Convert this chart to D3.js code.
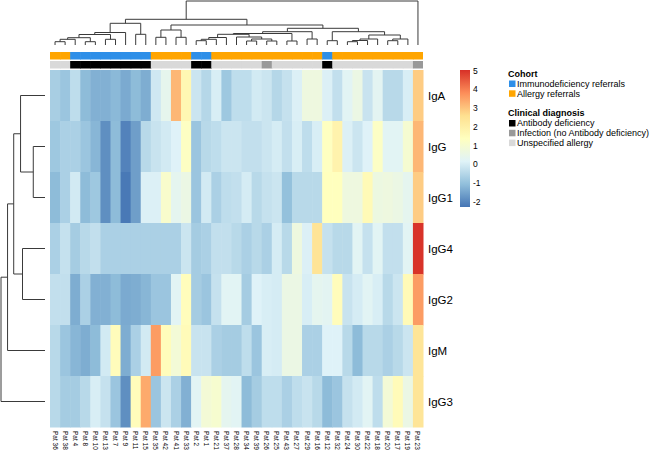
<!DOCTYPE html>
<html>
<head>
<meta charset="utf-8">
<script src="https://cdn.jsdelivr.net/npm/d3@7"></script>
<style>
body { margin: 0; background: #fff; }
text { font-family: "Liberation Sans", Arial, Helvetica, sans-serif; }
</style>
</head>
<body>
<div id="chart"></div>
<script>
// --- DATA ---
const patients = ["Pat 36","Pat 38","Pat 4","Pat 8","Pat 10","Pat 13","Pat 7","Pat 9","Pat 11","Pat 15",
  "Pat 35","Pat 42","Pat 41","Pat 33","Pat 2","Pat 1","Pat 21","Pat 37","Pat 28","Pat 34",
  "Pat 39","Pat 26","Pat 25","Pat 43","Pat 27","Pat 29","Pat 16","Pat 12","Pat 32","Pat 24",
  "Pat 30","Pat 22","Pat 18","Pat 20","Pat 17","Pat 19","Pat 23"];
const isotypes = ["IgA","IgG","IgG1","IgG4","IgG2","IgM","IgG3"];

const cohort = ["A","A","I","I","I","I","I","I","I","I","A","A","A","A","I","I","A","A","A","A",
  "A","A","A","A","A","A","A","I","A","A","A","A","A","A","A","A","A"];
const diagnosis = ["U","U","B","B","B","B","B","B","B","B","U","U","U","U","B","B","U","U","U","U",
  "U","X","U","U","U","U","U","B","U","U","U","U","U","U","U","U","X"];

const valIgA  = [-0.7,-0.9,-0.35,-1.1,-1.3,-1.3,-1.15,-1.4,-1.1,-1.35, -0.1,0.4,3.2,1.7,-0.15,-0.5,0.05,-0.85,-0.35,-0.35,
  -0.05,-0.15,-0.5,-0.25,0.1,0.7,0.7,0.1,-0.3,0.25, 0.6,-0.2,0.3,-0.45,-0.45,0.05,2.9];
const valIgG  = [-0.85,-0.65,-0.65,-0.9,-1.2,-1.85,-1.1,-2.05,-1.6,-0.45, -0.2,-0.05,0.15,1.3,-0.9,-0.45,-0.35,-0.15,-0.15,-0.3,
  -0.3,-0.15,0,-0.3,0.05,-0.35,0.05,1.35,1.85,0.1, -0.15,0.15,1.25,0.25,0.25,1.0,3.2];
const valIgG1 = [-1.1,-0.65,-0.05,-1.1,-0.85,-1.85,-1.1,-2.2,-1.6,0.1, 0.1,1.1,0.35,0.6,-0.9,-0.05,-0.65,-0.35,-0.3,0,
  -0.45,-0.25,-0.15,-1.0,-0.45,-0.45,-0.45,1.4,1.4,0.7, 0.7,1.6,0.65,0.7,0.6,0.35,2.9];
const valIgG4 = [-0.65,-0.25,-0.75,-0.45,-0.3,-0.65,-0.65,-0.65,-0.65,-0.65, -0.65,-0.65,-0.65,-0.15,-0.75,-0.65,-0.3,-0.3,-0.45,-0.65,
  -0.45,-0.65,0,-0.45,0.7,0.1,2.45,-0.25,-0.45,-0.45, 0.25,-0.25,0.25,-0.3,-0.3,0.25,5.0];
const valIgG2 = [-0.3,-0.3,-1.35,-0.65,-1.3,-1.3,-1.1,-1.4,-1.35,-1.2, -0.9,-0.9,0.25,1.45,-0.75,-0.9,-0.25,0.25,0.25,-0.75,
  0.15,0.05,0,0.6,0.6,0.05,0.35,0.3,1.5,-0.2, 0,0.25,0.05,-0.45,-0.15,1.6,3.6];
const valIgM  = [-0.45,-0.9,-1.2,-1.35,-1.1,-0.05,1.5,-1.35,-0.65,-0.05, 3.6,1.5,0.9,1.55,-0.2,-0.2,-0.65,-0.75,-0.75,-0.35,
  -0.9,0.05,0,0.6,0.6,-0.65,-0.65,0.15,0.15,-0.45, -1.1,-0.45,-0.45,-0.65,-0.45,-0.15,2.4];
const valIgG3 = [-0.45,-0.75,-0.75,-0.45,0.05,-0.25,-0.9,-1.85,1.5,3.4, -0.9,-0.15,-0.65,-1.3,0.25,0.9,1.05,0.35,0.25,-1.1,
  -0.75,-0.35,-0.35,-0.65,-0.35,-0.2,-0.45,-1.1,-0.9,-0.25, -0.05,0.25,-0.35,0.9,1.55,0.6,2.4];

// dendrograms: [height, left, right], leaves are labels
const rowTree = [45, [38.3, [32, [25, "IgA", [12, "IgG", "IgG1"]], [23, "IgG4", "IgG2"]], "IgM"], "IgG3"];

const colTree = [44,
  [25.7,
    [21.7,
      [12.5, [10.5, [7.3, [5.7, [3.3, "Pat 36", "Pat 38"], "Pat 4"], [3.3, "Pat 8", "Pat 10"]], [5.7, "Pat 13", "Pat 7"]], "Pat 9"],
      [10.7, "Pat 11", "Pat 15"]],
    [20,
      [15, [7.7, "Pat 35", "Pat 42"], [7.7, "Pat 41", "Pat 33"]],
      [16.7,
        [13.3,
          [11.5,
            [10.7,
              [7.5, [5.7, [4.3, "Pat 2", "Pat 1"], "Pat 21"], "Pat 37"],
              [8, "Pat 28", [6, [4, "Pat 34", "Pat 39"], [4, "Pat 26", "Pat 25"]]]],
            [4, "Pat 43", "Pat 27"]],
          [6, "Pat 29", "Pat 16"]],
        [13.3,
          [4.3, "Pat 12", "Pat 32"],
          [10,
            [6, [4.5, [3.3, "Pat 24", "Pat 30"], "Pat 22"], "Pat 18"],
            [6, [4.3, "Pat 20", "Pat 17"], "Pat 19"]]]]]],
  "Pat 23"];

const legendTicks = [5, 4, 3, 2, 1, 0, -1, -2];
const cohortLegend = [["I", "Immunodeficiency referrals"], ["A", "Allergy referrals"]];
const diagLegend = [["B", "Antibody deficiency"], ["X", "Infection (no Antibody deficiency)"], ["U", "Unspecified allergy"]];

const matrix = [valIgA, valIgG, valIgG1, valIgG4, valIgG2, valIgM, valIgG3];

// --- SCALES ---
const W = 650, H = 450;
const vmin = -2.27, vmax = 5.04;
const palette = ["#4575B4","#91BFDB","#E0F3F8","#FFFFBF","#FEE090","#FC8D59","#D73027"];
const color = d3.scaleLinear()
  .domain(palette.map((c, i) => vmin + i * (vmax - vmin) / (palette.length - 1)))
  .range(palette);
const cohortColor = {I: "#2E8FE8", A: "#FFA500"};
const diagColor = {B: "#000000", X: "#999999", U: "#D9D9D9"};

const x = d3.scaleBand().domain(patients).range([50, 423]);
const y = d3.scaleBand().domain(isotypes).range([70, 427]);

const svg = d3.select("#chart").append("svg")
  .attr("width", W).attr("height", H);

// --- HEATMAP ---
const cells = [];
isotypes.forEach((iso, r) => patients.forEach((p, c) => cells.push({iso, p, v: matrix[r][c]})));

svg.append("g").selectAll("rect")
  .data(cells)
  .enter().append("rect")
  .attr("x", d => x(d.p))
  .attr("y", d => y(d.iso))
  .attr("width", x.bandwidth() + 0.5)
  .attr("height", y.bandwidth() + 0.5)
  .attr("fill", d => color(d.v));

// annotation bars
const annot = svg.append("g");
annot.selectAll(".coh").data(patients).enter().append("rect")
  .attr("x", d => x(d)).attr("y", 52)
  .attr("width", (d, i) => i < patients.length - 1 ? x.bandwidth() + 0.6 : x.bandwidth()).attr("height", 7.5)
  .attr("fill", (d, i) => cohortColor[cohort[i]]);
annot.selectAll(".dia").data(patients).enter().append("rect")
  .attr("x", d => x(d)).attr("y", 61)
  .attr("width", (d, i) => i < patients.length - 1 ? x.bandwidth() + 0.6 : x.bandwidth()).attr("height", 7.5)
  .attr("fill", (d, i) => diagColor[diagnosis[i]]);

// labels
svg.append("g").selectAll("text")
  .data(isotypes)
  .enter().append("text")
  .attr("x", 428)
  .attr("y", d => y(d) + y.bandwidth() / 2)
  .attr("dominant-baseline", "central")
  .attr("font-size", 11.5)
  .text(d => d);

svg.append("g").selectAll("text")
  .data(patients)
  .enter().append("text")
  .attr("transform", d => `translate(${x(d) + x.bandwidth() / 2},431) rotate(90)`)
  .attr("dominant-baseline", "central")
  .attr("font-size", 6.5)
  .text(d => d);

// --- DENDROGRAMS ---
function treeOf(t) {
  return d3.hierarchy(t, d => Array.isArray(d) ? d.slice(1) : null);
}

function drawDendro(tree, posOf, hScale, horizontal) {
  const root = treeOf(tree);
  root.eachAfter(n => {
    if (!n.children) { n.pos = posOf(n.data); n.h = 0; }
    else { n.pos = d3.mean(n.children, c => c.pos); n.h = n.data[0]; }
  });
  const segs = [];
  root.each(n => {
    if (!n.children) return;
    const [a, b] = n.children;
    segs.push([[a.pos, hScale(a.h)], [a.pos, hScale(n.h)], [b.pos, hScale(n.h)], [b.pos, hScale(b.h)]]);
  });
  const line = d3.line()
    .x(p => horizontal ? p[1] : p[0])
    .y(p => horizontal ? p[0] : p[1]);
  svg.append("g").selectAll("path")
    .data(segs)
    .enter().append("path")
    .attr("d", line)
    .attr("fill", "none")
    .attr("stroke", "#3a3a3a")
    .attr("stroke-width", 1);
}

drawDendro(colTree, d => x(d) + x.bandwidth() / 2,
  d3.scaleLinear().domain([0, colTree[0]]).range([45, 1]), false);
drawDendro(rowTree, d => y(d) + y.bandwidth() / 2,
  d3.scaleLinear().domain([0, rowTree[0]]).range([45, 1]), true);

// --- LEGENDS ---
const barTop = 70, barBot = 207;
const ly = d3.scaleLinear().domain([vmin, vmax]).range([barBot, barTop]);
const defs = svg.append("defs");
const grad = defs.append("linearGradient").attr("id", "grad")
  .attr("x1", 0).attr("y1", 1).attr("x2", 0).attr("y2", 0);
grad.selectAll("stop").data(palette).enter().append("stop")
  .attr("offset", (d, i) => i / (palette.length - 1))
  .attr("stop-color", d => d);
svg.append("rect")
  .attr("x", 460).attr("y", barTop)
  .attr("width", 10).attr("height", barBot - barTop)
  .attr("fill", "url(#grad)");
svg.append("g").selectAll("text")
  .data(legendTicks)
  .enter().append("text")
  .attr("x", 473)
  .attr("y", d => ly(d))
  .attr("dominant-baseline", "central")
  .attr("font-size", 8.5)
  .text(d => d);

const leg = svg.append("g").attr("transform", "translate(508,0)");
leg.append("text").attr("x", 0).attr("y", 74).attr("dominant-baseline", "central")
  .attr("font-size", 9).attr("font-weight", "bold").text("Cohort");
cohortLegend.forEach(([k, label], i) => {
  leg.append("rect").attr("x", 1).attr("y", 80.5 + i * 9.8).attr("width", 6.5).attr("height", 6.5)
    .attr("fill", cohortColor[k]);
  leg.append("text").attr("x", 9).attr("y", 84 + i * 9.8).attr("dominant-baseline", "central")
    .attr("font-size", 9).text(label);
});
leg.append("text").attr("x", 0).attr("y", 112.7).attr("dominant-baseline", "central")
  .attr("font-size", 9).attr("font-weight", "bold").text("Clinical diagnosis");
diagLegend.forEach(([k, label], i) => {
  leg.append("rect").attr("x", 1).attr("y", 120 + i * 9.8).attr("width", 6.5).attr("height", 6.5)
    .attr("fill", diagColor[k]);
  leg.append("text").attr("x", 9).attr("y", 123.3 + i * 9.8).attr("dominant-baseline", "central")
    .attr("font-size", 9).text(label);
});
</script>
</body>
</html>
